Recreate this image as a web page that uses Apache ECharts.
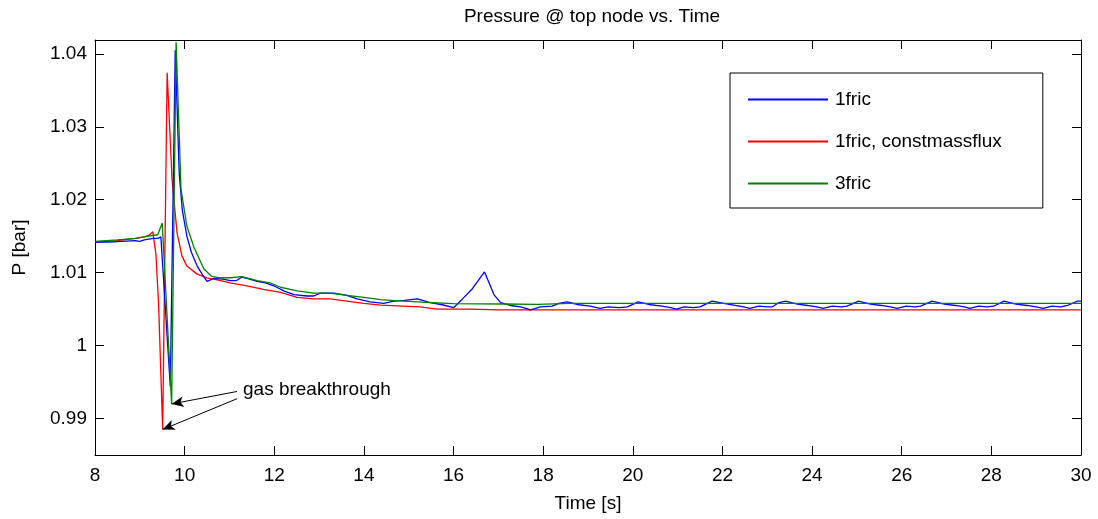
<!DOCTYPE html>
<html>
<head>
<meta charset="utf-8">
<script src="https://cdn.jsdelivr.net/npm/echarts@6/dist/echarts.min.js"></script>
<style>html,body{margin:0;padding:0;background:#fff}#c{width:1098px;height:519px}</style>
</head>
<body>
<div id="c"></div>
<script>
const seriesNames = ['1fric', '1fric, constmassflux', '3fric'];
const xTicks = [8, 10, 12, 14, 16, 18, 20, 22, 24, 26, 28, 30];
const yTicks = [0.99, 1, 1.01, 1.02, 1.03, 1.04];

const tBlue = [8.0, 8.3, 8.6, 8.9, 9.0, 9.1, 9.2, 9.3, 9.4, 9.47, 9.68, 9.79, 9.88, 9.95, 10.05, 10.15, 10.28, 10.4, 10.5, 10.65, 10.85, 11.02, 11.15, 11.28, 11.45, 11.62, 11.8, 11.99, 12.21, 12.44, 12.73, 12.88, 13.03, 13.33, 13.62, 13.85, 14.14, 14.44, 14.67, 14.9, 15.19, 15.48, 15.75, 16.0, 16.2, 16.42, 16.55, 16.69, 16.8, 16.9, 17.05, 17.27, 17.5, 17.72, 17.94, 18.2, 18.35, 18.53,
  18.8, 19.05, 19.27, 19.45, 19.7, 19.88, 20.12,
  20.4, 20.65, 20.85, 20.97, 21.15, 21.35, 21.5, 21.77,
  22.03, 22.25, 22.47, 22.61, 22.81, 23.0, 23.11, 23.26, 23.41,
  23.67, 23.9, 24.1, 24.25, 24.45, 24.65, 24.78, 25.04,
  25.3, 25.55, 25.75, 25.9, 26.1, 26.3, 26.42, 26.68,
  26.95, 27.2, 27.4, 27.52, 27.72, 27.9, 28.05, 28.28,
  28.55, 28.8, 29.0, 29.15, 29.35, 29.55, 29.7, 29.92, 30.0];
const pBlue = [1.0142, 1.0142, 1.0143, 1.0144, 1.0143, 1.0145, 1.0146, 1.0147, 1.0147, 1.0149, 0.9944, 1.0405, 1.0235, 1.0185, 1.0150, 1.0128, 1.0109, 1.0097, 1.0088, 1.0092, 1.0091, 1.0089, 1.0089, 1.0094, 1.0091, 1.0088, 1.0086, 1.0082, 1.0075, 1.0070, 1.0068, 1.0068, 1.0072, 1.0072, 1.0069, 1.0064, 1.0060, 1.0058, 1.0061, 1.0062, 1.0064, 1.0059, 1.0056, 1.0052, 1.0064, 1.0078, 1.0089, 1.0101, 1.0085, 1.0070, 1.0059, 1.0055, 1.0053, 1.0049, 1.0053, 1.0054, 1.0058, 1.0060,
  1.0056, 1.0054, 1.0051, 1.0053, 1.0052, 1.0053, 1.0060,
  1.0056, 1.0054, 1.0052, 1.0050, 1.0053, 1.0052, 1.0053, 1.0061,
  1.0058, 1.00555, 1.0053, 1.0051, 1.0054, 1.0053, 1.0053, 1.0059, 1.0061,
  1.0057, 1.0055, 1.0053, 1.0051, 1.0054, 1.0053, 1.0054, 1.0061,
  1.0057, 1.0055, 1.0053, 1.0051, 1.0054, 1.0053, 1.0054, 1.0061,
  1.0057, 1.0055, 1.0053, 1.0051, 1.0054, 1.0053, 1.0054, 1.0061,
  1.0057, 1.0055, 1.0053, 1.0051, 1.0054, 1.0053, 1.0055, 1.0061, 1.0061];

const tRed = [8.0, 8.5, 8.9, 9.1, 9.2, 9.29, 9.36, 9.42, 9.51, 9.61, 9.72, 9.83, 9.94, 10.05, 10.28, 10.5, 10.65, 11.02, 11.39, 11.76, 12.14, 12.51, 12.88, 13.25, 13.62, 14.0, 14.37, 14.89, 15.26, 15.63, 16.38, 17.0, 18.0, 20.0, 22.0, 24.0, 26.0, 28.0, 30.0];
const pRed = [1.0142, 1.0144, 1.0147, 1.0149, 1.0151, 1.0156, 1.0125, 1.0055, 0.9885, 1.0374, 1.0227, 1.0155, 1.0123, 1.0109, 1.0098, 1.0093, 1.0091, 1.0086, 1.0082, 1.0077, 1.0073, 1.0066, 1.0064, 1.0064, 1.0061, 1.0058, 1.00555, 1.0054, 1.0053, 1.0050, 1.0050, 1.0049, 1.0049, 1.0049, 1.0049, 1.0049, 1.0049, 1.0049, 1.0049];

const tGreen = [8.0, 8.5, 8.9, 9.0, 9.2, 9.4, 9.5, 9.71, 9.81, 9.92, 10.05, 10.2, 10.43, 10.6, 10.8, 11.02, 11.28, 11.62, 11.91, 12.14, 12.51, 12.88, 13.25, 13.62, 14.0, 14.37, 14.89, 15.5, 16.0, 17.12, 17.87, 18.6, 20.0, 22.0, 24.0, 26.0, 28.0, 30.0];
const pGreen = [1.0143, 1.0145, 1.0147, 1.0148, 1.0150, 1.0152, 1.0168, 0.9920, 1.0416, 1.0214, 1.0164, 1.0136, 1.0105, 1.0095, 1.0093, 1.0093, 1.00945, 1.0089, 1.0086, 1.0080, 1.0075, 1.0072, 1.0072, 1.0069, 1.0066, 1.0063, 1.0061, 1.0059, 1.00575, 1.0057, 1.00565, 1.0058, 1.0058, 1.0058, 1.0058, 1.0058, 1.0058, 1.0058];

const annotText = 'gas breakthrough';
const annotStart1 = [11.17, 0.99371];
const annotStart2 = [11.17, 0.99272];

function zip(t, p) { return t.map((x, i) => [x, p[i]]); }
function minPoint(t, p) { let k = 0; p.forEach((v, i) => { if (v < p[k]) k = i; }); return [t[k], p[k]]; }

const FONT = '"Liberation Sans", Arial, Helvetica, sans-serif';
const chart = echarts.init(document.getElementById('c'), null, { renderer: 'canvas' });

const axisCommon = {
  axisLine: { show: true, onZero: false, lineStyle: { color: '#000', width: 1 } },
  splitLine: { show: false }
};

const yFmt = v => String(+(+v).toFixed(2));

const option = {
  animation: false,
  backgroundColor: '#fff',
  textStyle: { fontFamily: FONT },
  title: {
    text: 'Pressure @ top node vs. Time',
    left: 587, top: 2, textAlign: 'center',
    textStyle: { fontSize: 19, fontWeight: 'normal', color: '#000', fontFamily: FONT }
  },
  grid: { left: 95, right: 17, top: 40, bottom: 64, containLabel: false },
  legend: {
    orient: 'vertical', left: 730, top: 73,
    data: seriesNames,
    backgroundColor: '#fff', borderColor: '#000', borderWidth: 1,
    padding: [17, 41, 15, 17],
    itemWidth: 80, itemHeight: 20, itemGap: 23,
    itemStyle: { opacity: 0 },
    textStyle: { fontSize: 19, color: '#000', fontFamily: FONT, padding: [0, 0, 0, 2] }
  },
  xAxis: [
    Object.assign({}, axisCommon, {
      type: 'value', position: 'bottom', min: xTicks[0], max: xTicks[xTicks.length - 1], interval: 2,
      axisTick: { show: true, inside: true, length: 9, lineStyle: { color: '#000' } },
      axisLabel: { fontSize: 19, color: '#000', margin: 11, fontFamily: FONT },
      name: 'Time [s]', nameLocation: 'middle', nameGap: 39,
      nameTextStyle: { fontSize: 19, color: '#000', fontFamily: FONT }
    }),
    Object.assign({}, axisCommon, {
      type: 'value', position: 'top', min: xTicks[0], max: xTicks[xTicks.length - 1], interval: 2,
      axisTick: { show: true, inside: true, length: 9, lineStyle: { color: '#000' } },
      axisLabel: { show: false }
    })
  ],
  yAxis: [
    Object.assign({}, axisCommon, {
      type: 'value', position: 'left', min: 0.985, max: 1.0419,
      axisTick: { show: true, inside: true, length: 9, customValues: yTicks, lineStyle: { color: '#000' } },
      axisLabel: { fontSize: 19, color: '#000', margin: 8, customValues: yTicks, formatter: yFmt, fontFamily: FONT },
      name: 'P [bar]', nameLocation: 'middle', nameGap: 66, nameRotate: 90,
      nameTextStyle: { fontSize: 19, color: '#000', fontFamily: FONT }
    }),
    Object.assign({}, axisCommon, {
      type: 'value', position: 'right', min: 0.985, max: 1.0419,
      axisTick: { show: true, inside: true, length: 9, customValues: yTicks, lineStyle: { color: '#000' } },
      axisLabel: { show: false, customValues: yTicks }
    })
  ],
  series: [
    {
      name: seriesNames[0], type: 'line', data: zip(tBlue, pBlue), symbol: 'none', showSymbol: false,
      color: '#0000ff', lineStyle: { color: '#0000ff', width: 1.3 }, xAxisIndex: 0, yAxisIndex: 0, z: 3
    },
    {
      name: seriesNames[1], type: 'line', data: zip(tRed, pRed), symbol: 'none', showSymbol: false,
      color: '#ff0000', lineStyle: { color: '#ff0000', width: 1.3 }, xAxisIndex: 0, yAxisIndex: 0, z: 2,
      markLine: {
        silent: true, animation: false,
        symbol: ['none', 'arrow'], symbolSize: [8, 12],
        label: { show: false },
        lineStyle: { color: '#000', width: 1, type: 'solid' },
        data: [
          [{ coord: annotStart1 }, { coord: minPoint(tGreen, pGreen) }],
          [{ coord: annotStart2 }, { coord: minPoint(tRed, pRed) }]
        ]
      }
    },
    {
      name: seriesNames[2], type: 'line', data: zip(tGreen, pGreen), symbol: 'none', showSymbol: false,
      color: '#008000', lineStyle: { color: '#008000', width: 1.3 }, xAxisIndex: 0, yAxisIndex: 0, z: 4
    }
  ],
  graphic: [
    { type: 'text', left: 243, top: 380, style: { text: annotText, fontSize: 19, fill: '#000', font: '19px ' + FONT } }
  ]
};
chart.setOption(option);
</script>
</body>
</html>
